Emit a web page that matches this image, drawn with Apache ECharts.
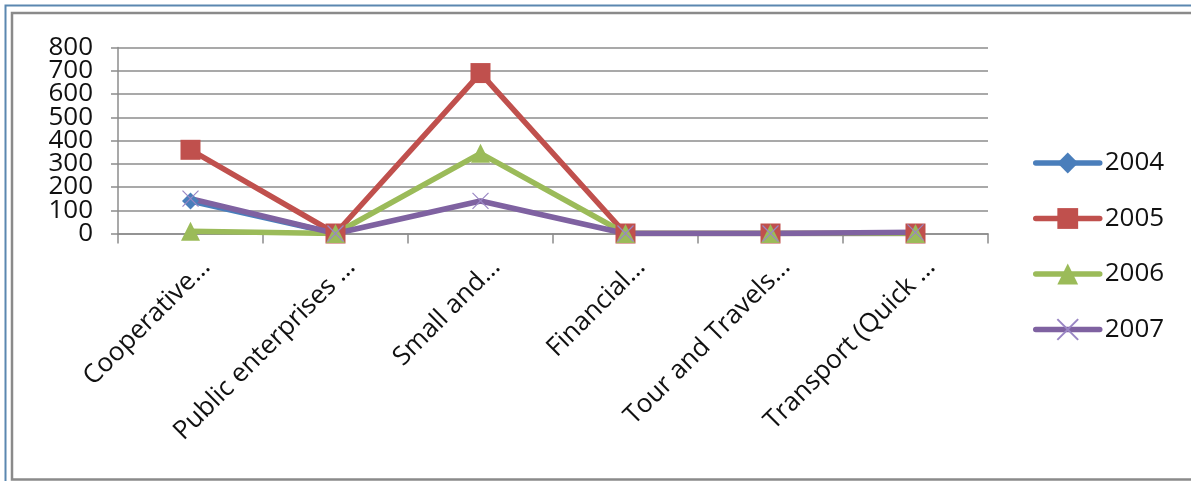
<!DOCTYPE html>
<html>
<head>
<meta charset="utf-8">
<script src="https://cdn.jsdelivr.net/npm/echarts@6/dist/echarts.min.js"></script>
<style>
  html, body { margin: 0; padding: 0; background: #fff; }
  #chart { width: 1191px; height: 481px; }
</style>
</head>
<body>
<div id="chart"></div>
<script>
// Sector names as printed under the axis
const categories = ['Cooperative…', 'Public enterprises …', 'Small and…', 'Financial…', 'Tour and Travels…', 'Transport (Quick …'];
const yearNames = ['2004', '2005', '2006', '2007'];
const values2004 = [140, 0, null, 0, 0, 0];
const values2005 = [360, 0, 690, 0, 0, 0];
const values2006 = [10, 0, 345, 0, 0, 0];
const values2007 = [150, 0, 140, 0, 0, 5];
const yTicks = { min: 0, max: 800, interval: 100 };

const FONT = '"Open Sans", "Liberation Sans", sans-serif';
const GRID = '#8c8c8c';
const LINE_W = 5.5;
const crossPath = 'path://M0,0L10,10M10,0L0,10';

const colors = ['#4a7ebb', '#c0504d', '#9bbb59', '#7f62a1'];

const chart = echarts.init(document.getElementById('chart'), null, { renderer: 'canvas' });

function lineSeries(name, data, color, symbol, size, extraItem) {
  return {
    name: name,
    type: 'line',
    data: data,
    yAxisIndex: 0,
    symbol: symbol,
    symbolSize: size,
    showAllSymbol: true,
    connectNulls: false,
    lineStyle: { color: color, width: LINE_W, cap: 'round', join: 'round' },
    itemStyle: Object.assign({ color: color }, extraItem || {}),
    emphasis: { disabled: true },
    z: 2
  };
}

// The tick labels sit closer together than their font height, so the even and
// odd hundreds are carried by two stacked value axes sharing the same scale.
function tickStep(v) { return Math.round((v - yTicks.min) / yTicks.interval); }
const labelBase = { margin: 25, fontFamily: FONT, fontSize: 26, color: '#111',
  showMinLabel: true, showMaxLabel: true, hideOverlap: false };

chart.setOption({
  animation: false,
  backgroundColor: '#ffffff',
  textStyle: { fontFamily: FONT },
  graphic: [
    { type: 'rect', shape: { x: 5.5, y: 5.5, width: 1300, height: 600 },
      style: { fill: null, stroke: '#5b87b0', lineWidth: 2 }, silent: true },
    { type: 'rect', shape: { x: 12, y: 13, width: 1300, height: 466.5 },
      style: { fill: null, stroke: '#8a8a8a', lineWidth: 2.5 }, silent: true }
  ],
  grid: { left: 118, right: 203, top: 47.5, bottom: 247.5, containLabel: false },
  legend: {
    orient: 'vertical',
    left: 1028,
    top: 145,
    itemWidth: 64,
    itemHeight: 26,
    itemGap: 29.5,
    data: yearNames.map(function (n, i) {
      return { name: n, lineStyle: { width: LINE_W, color: colors[i] } };
    }),
    textStyle: { fontFamily: FONT, fontSize: 26, color: '#111' },
    selectedMode: false
  },
  xAxis: {
    type: 'category',
    data: categories,
    boundaryGap: true,
    axisLine: { lineStyle: { color: GRID, width: 1.5 } },
    axisTick: { show: true, length: 10, interval: 0, lineStyle: { color: GRID, width: 1.5 } },
    axisLabel: {
      interval: 0,
      rotate: 45,
      margin: 14,
      align: 'right',
      verticalAlign: 'top',
      lineHeight: 44,
      fontFamily: FONT,
      fontSize: 26,
      color: '#111'
    }
  },
  yAxis: [
    {
      type: 'value',
      position: 'left',
      min: yTicks.min,
      max: yTicks.max,
      interval: yTicks.interval,
      axisLine: { show: true, lineStyle: { color: GRID, width: 1.5 } },
      axisTick: { show: true, length: 7, lineStyle: { color: GRID, width: 1.5 } },
      splitLine: { show: true, lineStyle: { color: GRID, width: 1.5 } },
      axisLabel: Object.assign({}, labelBase, {
        formatter: function (v) { return tickStep(v) % 2 === 0 ? String(v) : ''; }
      })
    },
    {
      type: 'value',
      position: 'left',
      offset: 0,
      min: yTicks.min,
      max: yTicks.max,
      interval: yTicks.interval,
      axisLine: { show: false },
      axisTick: { show: false },
      splitLine: { show: false },
      axisLabel: Object.assign({}, labelBase, {
        formatter: function (v) { return tickStep(v) % 2 === 1 ? String(v) : ''; }
      })
    }
  ],
  series: [
    lineSeries(yearNames[0], values2004, colors[0], 'diamond', 17),
    lineSeries(yearNames[1], values2005, colors[1], 'rect', 20),
    lineSeries(yearNames[2], values2006, colors[2], 'triangle', 19),
    lineSeries(yearNames[3], values2007, colors[3], crossPath, 16,
      { color: 'rgba(0,0,0,0)', borderColor: '#9a86c4', borderWidth: 1.2 })
  ]
});
</script>
</body>
</html>
